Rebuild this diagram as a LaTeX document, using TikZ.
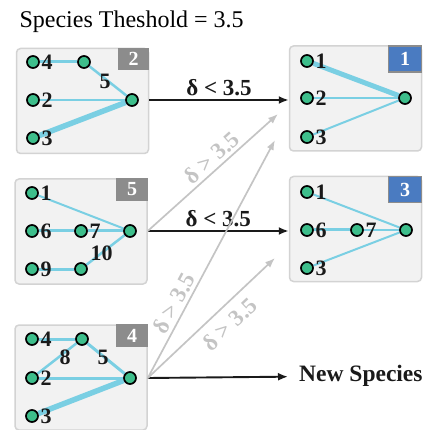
\documentclass[tikz,border=0pt]{standalone}
\usepackage{fontspec}
\setmainfont{Liberation Serif}
\usetikzlibrary{arrows.meta,positioning,calc,backgrounds}
\definecolor{Panel}{HTML}{F2F2F2}
\definecolor{PanelEdge}{HTML}{D3D3D3}
\definecolor{Spot}{HTML}{3DBE8B}
\definecolor{Link}{HTML}{7ACFE3}
\definecolor{TagGray}{HTML}{8C8C8C}
\definecolor{TagBlue}{HTML}{4A7BC1}
\definecolor{Faint}{HTML}{C4C4C4}
\definecolor{Ink}{HTML}{1A1A1A}

\begin{document}
\begin{tikzpicture}[x=10pt,y=-10pt,
  panel/.style={rounded corners=4pt,draw=PanelEdge,fill=Panel,line width=1.5pt,minimum width=132pt,minimum height=105pt},
  tag/.style={anchor=north east,draw=TagGray,fill=TagGray,line width=1.5pt,minimum width=30pt,minimum height=21pt,inner sep=0pt,text=white,font=\fontsize{20}{22}\selectfont\bfseries},
  btag/.style={tag,fill=TagBlue,minimum width=33pt,minimum height=26pt},
  spot/.style={circle,draw=black,fill=Spot,line width=1.7pt,minimum size=12pt,inner sep=0pt},
  num/.style={font=\fontsize{22}{24}\selectfont\bfseries,inner sep=1.5pt,text=Ink},
  wt/.style={num,inner sep=0pt},
  weak/.style={draw=Link,line width=2pt},
  fair/.style={draw=Link,line width=3pt},
  strong/.style={draw=Link,line width=5.5pt},
  arrow/.style={-{Latex[length=10pt,width=8pt]},line width=1.9pt,draw=Ink},
  farrow/.style={-{Latex[length=10pt,width=7.5pt]},line width=1.7pt,draw=Faint},
  cond/.style={font=\fontsize{23}{26}\selectfont\bfseries,text=Ink,inner sep=3pt},
  fcond/.style={cond,text=Faint,sloped,inner sep=3pt}
]
\useasboundingbox (0,0) rectangle (44.4,43.0);

\node[anchor=base west,font=\fontsize{24}{28}\selectfont] (title) at (1.6,2.75) {Species Theshold = 3.5};

% species 2
\node[spot,label={[num]right:4}] (a4) at (3.3,6.2) {};
\node[spot] (am) at (8.4,6.2) {};
\node[spot,label={[num]right:2}] (a2) at (3.3,10.0) {};
\node[spot,label={[num]right:3}] (a3) at (3.3,13.8) {};
\node[spot] (ah) at (13.2,10.0) {};

% species 1
\node[spot,label={[num]right:1}] (c1) at (30.7,6.1) {};
\node[spot,label={[num]right:2}] (c2) at (30.7,9.8) {};
\node[spot,label={[num]right:3}] (c3) at (30.7,13.7) {};
\node[spot] (ch) at (40.5,9.8) {};

% species 5
\node[spot,label={[num]right:1}] (e1) at (3.2,19.3) {};
\node[spot,label={[num]right:6}] (e6) at (3.2,23.1) {};
\node[spot,label={[num]right:7}] (e7) at (8.1,23.1) {};
\node[spot] (eh) at (13.0,23.1) {};
\node[spot,label={[num]right:9}] (e9) at (3.2,26.9) {};
\node[spot] (em) at (8.1,26.9) {};

% species 3
\node[spot,label={[num]right:1}] (f1) at (30.7,19.2) {};
\node[spot,label={[num]right:6}] (f6) at (30.7,23.0) {};
\node[spot,label={[num]right:7}] (f7) at (35.7,23.0) {};
\node[spot] (fh) at (40.6,23.0) {};
\node[spot,label={[num]right:3}] (f3) at (30.7,26.8) {};

% species 4
\node[spot,label={[num]right:4}] (g4) at (3.2,33.9) {};
\node[spot] (gm) at (8.2,33.9) {};
\node[spot,label={[num]right:2}] (g2) at (3.2,37.8) {};
\node[spot,label={[num]right:3}] (g3) at (3.2,41.6) {};
\node[spot] (gh) at (13.0,37.8) {};

\begin{scope}[on background layer]
  \node[panel] (b2) at (8.25,10.1) {};
  \node[panel] (b1) at (35.55,9.85) {};
  \node[panel] (b5) at (8.1,23.15) {};
  \node[panel] (b3) at (35.55,22.9) {};
  \node[panel] (b4) at (8.1,37.75) {};

  \draw[fair] (a4) -- (am);
  \draw[weak,line width=2.5pt] (am) -- node[wt,xshift=-3pt] {5} (ah);
  \draw[weak] (a2) -- (ah);
  \draw[strong] (a3) -- (ah);

  \draw[strong,line width=5pt] (c1) -- (ch);
  \draw[weak,line width=2.5pt] (c2) -- (ch);
  \draw[weak] (c3) -- (ch);

  \draw[weak] (e1) -- (eh);
  \draw[fair] (e6) -- (e7);
  \draw[fair] (e7) -- (eh);
  \draw[fair] (e9) -- (em);
  \draw[weak,line width=2.5pt] (em) -- node[wt,xshift=-4pt,yshift=-3pt] {10} (eh);

  \draw[weak] (f1) -- (fh);
  \draw[fair] (f6) -- (f7);
  \draw[weak,line width=2.5pt] (f7) -- (fh);
  \draw[weak] (f3) -- (fh);

  \draw[fair] (g4) -- (gm);
  \draw[weak,line width=2.5pt] (g2) -- node[wt,xshift=8pt,yshift=1.5pt] {8} (gm);
  \draw[fair] (gm) -- node[wt,xshift=-3pt,yshift=1.5pt] {5} (gh);
  \draw[fair] (g2) -- (gh);
  \draw[strong] (g3) -- (gh);
\end{scope}

% species ids
\node[tag] (t2) at (b2.north east) {2};
\node[btag] (t1) at (b1.north east) {1};
\node[tag] (t5) at (b5.north east) {5};
\node[btag] (t3) at (b3.north east) {3};
\node[tag] (t4) at (b4.north east) {4};

\node[cond,anchor=west,inner xsep=11pt,font=\fontsize{23.5}{26}\selectfont\bfseries] (new) at (28.8,37.6) {New Species};

% ends of the rejected matches
\coordinate (r1) at (27.8,11.4);
\coordinate (r2) at (27.5,14.0);
\coordinate (r3) at (27.5,25.8);

\draw[arrow] (ah -| b2.east) -- node[cond,above] {δ < 3.5} (ah -| b1.west);
\draw[arrow] (eh -| b5.east) -- node[cond,above] {δ < 3.5} (eh -| b3.west);
\draw[arrow] (gh -| b4.east) -- (new);
\draw[farrow] (eh -| b5.east) -- node[fcond,above,pos=0.55] {δ > 3.5} (r1);
\draw[farrow] (gh -| b4.east) -- node[fcond,above,pos=0.29] {δ > 3.5} (r2);
\draw[farrow] (gh -| b4.east) -- node[fcond,below=5pt,pos=0.55] {δ > 3.5} (r3);
\end{tikzpicture}
\end{document}
